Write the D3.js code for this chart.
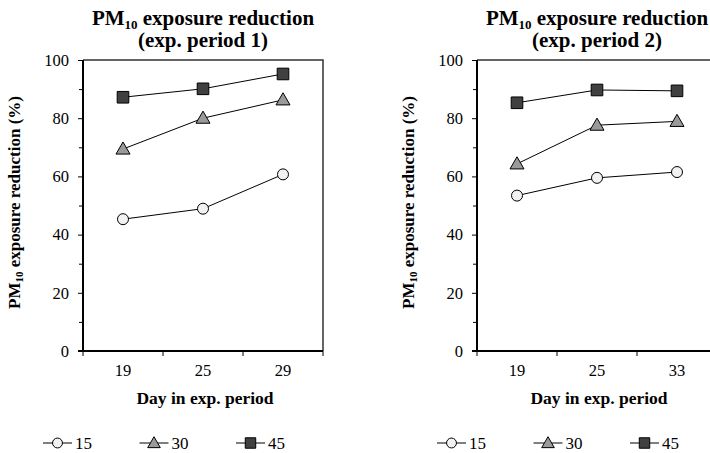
<!DOCTYPE html>
<html>
<head>
<meta charset="utf-8">
<script src="https://cdn.jsdelivr.net/npm/d3@7/dist/d3.min.js"></script>
<style>
  html, body { margin: 0; padding: 0; background: #fff; }
  svg { display: block; font-family: "Liberation Serif", "Times New Roman", serif; }
</style>
</head>
<body>
<svg id="chart" width="710" height="453"></svg>
<script>
// Exposure-reduction data for two exposure periods (values in %)
const seriesNames = ["15", "30", "45"];
const days1 = ["19", "25", "29"];
const days2 = ["19", "25", "33"];
const period1_15 = [45.3, 48.9, 60.7];
const period1_30 = [69.4, 80.0, 86.3];
const period1_45 = [87.2, 90.1, 95.2];
const period2_15 = [53.4, 59.5, 61.5];
const period2_30 = [64.3, 77.6, 78.9];
const period2_45 = [85.3, 89.7, 89.4];
const yMajorTicks = [0, 20, 40, 60, 80, 100];
const yMinorTicks = [10, 30, 50, 70, 90];

const panels = [
  { left: 83, period: "1", days: days1, values: [period1_15, period1_30, period1_45] },
  { left: 477, period: "2", days: days2, values: [period2_15, period2_30, period2_45] }
];

const markerStyle = {
  "15": { shape: "circle", fill: "#f2f2f2" },
  "30": { shape: "triangle", fill: "#9a9a9a" },
  "45": { shape: "square", fill: "#404040" }
};

const plotTop = 60, plotH = 291, plotW = 240;
const serif = "Liberation Serif";
const svg = d3.select("#chart");

function drawMarker(g, key, x, y, scale) {
  const st = markerStyle[key];
  let sym;
  if (st.shape === "circle") sym = d3.symbol(d3.symbolCircle, 95 * scale * scale);
  else if (st.shape === "triangle") sym = d3.symbol(d3.symbolTriangle, 85 * scale * scale);
  else sym = d3.symbol(d3.symbolSquare, 135 * scale * scale);
  g.append("path")
    .attr("d", sym())
    .attr("transform", `translate(${x},${y + (st.shape === "triangle" ? 1 : 0)})`)
    .attr("fill", st.fill)
    .attr("stroke", "#000")
    .attr("stroke-width", 1);
}

panels.forEach(p => {
  const g = svg.append("g").attr("transform", `translate(${p.left},${plotTop})`);
  const x = d3.scaleBand().domain(p.days).range([0, plotW]).padding(0);
  const y = d3.scaleLinear().domain([0, 100]).range([plotH, 0]);

  // frame: thin top and right borders
  g.append("path")
    .attr("d", `M0,0H${plotW}V${plotH}`)
    .attr("fill", "none")
    .attr("stroke", "#333")
    .attr("stroke-width", 1.5);

  // y axis with major labels and minor ticks
  const yAxis = g.append("g")
    .call(d3.axisLeft(y).tickValues(yMajorTicks).tickSize(5).tickPadding(9));
  yAxis.selectAll(".tick line").attr("stroke", "#000").attr("stroke-width", 1);
  yAxis.select(".domain").remove();
  g.append("g")
    .call(d3.axisLeft(y).tickValues(yMinorTicks).tickSize(4).tickFormat(""))
    .call(a => a.select(".domain").remove());
  yAxis.selectAll("text").attr("font-size", 16.5).attr("fill", "#000")
    .attr("font-family", serif);

  // x axis: labels centred in each category, ticks on category boundaries
  const xAxis = g.append("g")
    .attr("transform", `translate(0,${plotH})`)
    .call(d3.axisBottom(x).tickSize(0).tickPadding(13));
  xAxis.select(".domain").remove();
  xAxis.selectAll("text").attr("font-size", 16.5).attr("fill", "#000")
    .attr("font-family", serif);
  const edges = p.days.map(d => x(d)).concat([x(p.days[p.days.length - 1]) + x.bandwidth()]);
  g.selectAll(".xedge").data(edges).join("line")
    .attr("x1", d => d).attr("x2", d => d)
    .attr("y1", plotH).attr("y2", plotH + 5)
    .attr("stroke", "#000");

  // thick left and bottom axis lines
  g.append("line").attr("x1", 0).attr("x2", 0).attr("y1", 0).attr("y2", plotH)
    .attr("stroke", "#000").attr("stroke-width", 2);
  g.append("line").attr("x1", -5).attr("x2", plotW).attr("y1", plotH).attr("y2", plotH)
    .attr("stroke", "#000").attr("stroke-width", 2);

  // series lines and markers
  const line = d3.line().x((d, i) => x(p.days[i]) + x.bandwidth() / 2).y(d => y(d));
  p.values.forEach(vals => {
    g.append("path").attr("d", line(vals)).attr("fill", "none")
      .attr("stroke", "#000").attr("stroke-width", 1);
  });
  p.values.forEach((vals, si) => {
    vals.forEach((v, i) => drawMarker(g, seriesNames[si], x(p.days[i]) + x.bandwidth() / 2, y(v), 1));
  });

  // title
  const cx = plotW / 2;
  const t1 = g.append("text").attr("x", cx).attr("y", 25 - plotTop)
    .attr("text-anchor", "middle").attr("font-weight", "bold").attr("font-size", 21);
  t1.append("tspan").text("PM");
  t1.append("tspan").text("10").attr("font-size", 13).attr("dy", 3.5);
  t1.append("tspan").text(" exposure reduction").attr("dy", -3.5);
  g.append("text").attr("x", cx).attr("y", 47 - plotTop)
    .attr("text-anchor", "middle").attr("font-weight", "bold").attr("font-size", 21)
    .text(`(exp. period ${p.period})`);

  // axis titles
  g.append("text").attr("x", cx + 2).attr("y", 404 - plotTop)
    .attr("text-anchor", "middle").attr("font-weight", "bold").attr("font-size", 17.5)
    .text("Day in exp. period");
  const yl = g.append("text")
    .attr("transform", `translate(-63,${plotH / 2 - 3}) rotate(-90)`)
    .attr("text-anchor", "middle").attr("font-weight", "bold").attr("font-size", 17);
  yl.append("tspan").text("PM");
  yl.append("tspan").text("10").attr("font-size", 11).attr("dy", 3);
  yl.append("tspan").text(" exposure reduction (%)").attr("dy", -3);

  // legend
  const lg = g.append("g").attr("transform", `translate(-40,${443 - plotTop})`);
  seriesNames.forEach((s, i) => {
    const e = lg.append("g").attr("transform", `translate(${i * 96.5},0)`);
    e.append("line").attr("x1", 0).attr("x2", 29).attr("y1", 0).attr("y2", 0)
      .attr("stroke", "#000").attr("stroke-width", 1);
    drawMarker(e, s, 14.5, 0, 0.9);
    e.append("text").attr("x", 32).attr("y", 6).attr("font-size", 17).text(s);
  });
});
</script>
</body>
</html>
